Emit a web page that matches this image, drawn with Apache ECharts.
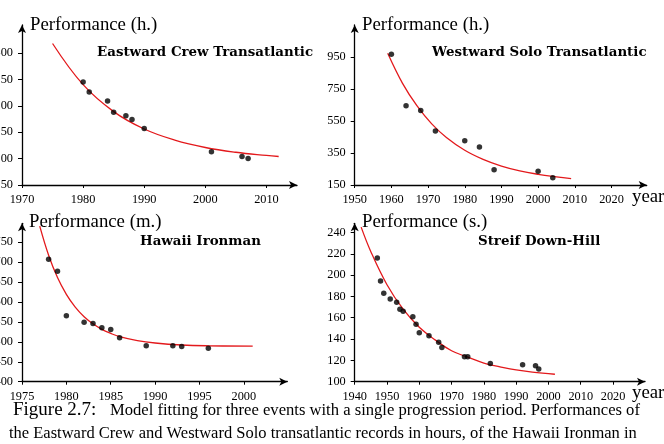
<!DOCTYPE html>
<html><head><meta charset="utf-8">
<script src="https://cdn.jsdelivr.net/npm/echarts@6/dist/echarts.min.js"></script>
<style>html,body{margin:0;padding:0;background:#fff}#c{width:664px;height:444px}</style>
</head><body><div id="c"></div>
<script>
// Eastward Crew Transatlantic (hours)
const ecYears = [1980,1981,1984,1985,1987,1988,1990,2001,2006,2007];
const ecPerf  = [245,226,209,188,181,174,157,113,104,100];
const ecFitYears = [1975,1980,1985,1990,1995,2000,2005,2010,2012];
const ecFitPerf  = [318,240,189,156,135,121,112,106,104];
const ecYTicks = [50,100,150,200,250,300];
const ecXTicks = [1970,1980,1990,2000,2010];

// Westward Solo Transatlantic (hours)
const wsYears = [1960,1964,1968,1972,1980,1984,1988,2000,2004];
const wsPerf  = [967,646,615,488,427,388,246,236,196];
const wsFitYears = [1959,1963,1967,1971,1975,1980,1985,1990,1995,2000,2005,2009];
const wsFitPerf  = [973,787,644,532,447,367,310,268,238,217,201,190];
const wsYTicks = [150,350,550,750,950];
const wsXTicks = [1950,1960,1970,1980,1990,2000,2010,2020];

// Hawaii Ironman (minutes)
const hiYears = [1978,1979,1980,1982,1983,1984,1985,1986,1989,1992,1993,1996];
const hiPerf  = [707,677,565,549,546,535,531,510,490,490,488,484];
const hiFitYears = [1977,1978,1979,1980,1981,1982,1983,1984,1985,1986,1988,1990,1993,1996,2001];
const hiFitPerf  = [790,717,661,619,587,563,545,531,521,513,503,497,492,490,489];
const hiYTicks = [400,450,500,550,600,650,700,750];
const hiXTicks = [1975,1980,1985,1990,1995,2000];

// Streif Down-Hill (seconds)
const sdYears = [1947,1948,1949,1951,1953,1954,1955,1958,1959,1960,1963,1966,1967,1974,1975,1982,1992,1996,1997];
const sdPerf  = [216,194.5,183,177.5,174.5,168,166,161,154,146,143,137,132,123.5,123.5,117,116,115,112];
const sdFitYears = [1942,1945,1950,1955,1960,1965,1970,1975,1980,1985,1990,1995,2002];
const sdFitPerf  = [245,222,191,168,151,139,129,123,117.5,114,111,109,107];
const sdYTicks = [100,120,140,160,180,200,220,240];
const sdXTicks = [1940,1950,1960,1970,1980,1990,2000,2010,2020];

const panels = [
  {name:'Eastward Crew Transatlantic', unit:'Performance (h.)', x:ecYears, y:ecPerf, fx:ecFitYears, fy:ecFitPerf, yt:ecYTicks, xt:ecXTicks,
   xmin:1970, xmax:2015, ymin:50, ymax:353, grid:{left:22, top:25, width:275, height:160}},
  {name:'Westward Solo Transatlantic', unit:'Performance (h.)', x:wsYears, y:wsPerf, fx:wsFitYears, fy:wsFitPerf, yt:wsYTicks, xt:wsXTicks,
   xmin:1950, xmax:2029.6, ymin:150, ymax:1150, grid:{left:354.7, top:25, width:292, height:160}},
  {name:'Hawaii Ironman', unit:'Performance (m.)', x:hiYears, y:hiPerf, fx:hiFitYears, fy:hiFitPerf, yt:hiYTicks, xt:hiXTicks,
   xmin:1975, xmax:2004.9, ymin:400, ymax:797, grid:{left:22, top:223.3, width:265.3, height:158.4}},
  {name:'Streif Down-Hill', unit:'Performance (s.)', x:sdYears, y:sdPerf, fx:sdFitYears, fy:sdFitPerf, yt:sdYTicks, xt:sdXTicks,
   xmin:1940, xmax:2029.9, ymin:100, ymax:248.6, grid:{left:354.7, top:223.3, width:290.3, height:158.4}}
];

const SERIF = '"Liberation Serif", "DejaVu Serif", serif';
const BOLD = 'bold 13.4px "DejaVu Serif", serif';
const axisLine = {show:true, lineStyle:{color:'#000', width:1.3}, symbol:['none','arrow'], symbolSize:[6,8]};
const plain = v => String(v);

const grids=[], xAxes=[], yAxes=[], series=[];
panels.forEach((p,i)=>{
  grids.push(Object.assign({containLabel:false, outerBoundsMode:'none'}, p.grid));
  xAxes.push({type:'value', gridIndex:i, min:p.xmin, max:p.xmax, splitLine:{show:false},
    axisLine:axisLine,
    axisTick:{show:true, length:3, lineStyle:{color:'#000', width:1}, customValues:p.xt},
    axisLabel:{customValues:p.xt, formatter:plain, color:'#000', fontFamily:SERIF, fontSize:12.3, margin:9}});
  yAxes.push({type:'value', gridIndex:i, min:p.ymin, max:p.ymax, splitLine:{show:false},
    axisLine:axisLine,
    axisTick:{show:true, length:4, lineStyle:{color:'#000', width:1}, customValues:p.yt},
    axisLabel:{customValues:p.yt, formatter:plain, color:'#000', fontFamily:SERIF, fontSize:12.3, margin:9}});
  series.push({type:'line', xAxisIndex:i, yAxisIndex:i, data:p.fx.map((v,k)=>[v,p.fy[k]]),
    smooth:0.4, showSymbol:false, lineStyle:{color:'#e3191c', width:1.3}, silent:true, z:2});
  series.push({type:'scatter', xAxisIndex:i, yAxisIndex:i, data:p.x.map((v,k)=>[v,p.y[k]]),
    symbolSize:5.5, itemStyle:{color:'#000'}, silent:true, z:3});
});

const txt = (x,y,text,font,align)=>({type:'text', x:x, y:y, style:{text:text, font:font, fill:'#000', textAlign:align||'left', textVerticalAlign:'middle'}});
const graphic = [
  txt(30,25,'Performance (h.)','18.8px '+SERIF),
  txt(362,25,'Performance (h.)','18.8px '+SERIF),
  txt(29,222,'Performance (m.)','18.8px '+SERIF),
  txt(362,222,'Performance (s.)','18.8px '+SERIF),
  txt(97,53,'Eastward Crew Transatlantic',BOLD),
  txt(432,53,'Westward Solo Transatlantic',BOLD),
  txt(140,242,'Hawaii Ironman',BOLD),
  txt(478,242,'Streif Down-Hill',BOLD),
  txt(632,197,'year','18.8px '+SERIF),
  txt(632,393,'year','18.8px '+SERIF),
  txt(13,410,'Figure 2.7:','19px '+SERIF),
  txt(110,411,'Model fitting for three events with a single progression period. Performances of','16.6px '+SERIF),
  txt(9,434,'the Eastward Crew and Westward Solo transatlantic records in hours, of the Hawaii Ironman in','16.5px '+SERIF)
];

const chart = echarts.init(document.getElementById('c'), null, {renderer:'canvas'});
chart.setOption({animation:false, backgroundColor:'#fff', grid:grids, xAxis:xAxes, yAxis:yAxes, series:series, graphic:graphic});
</script></body></html>
